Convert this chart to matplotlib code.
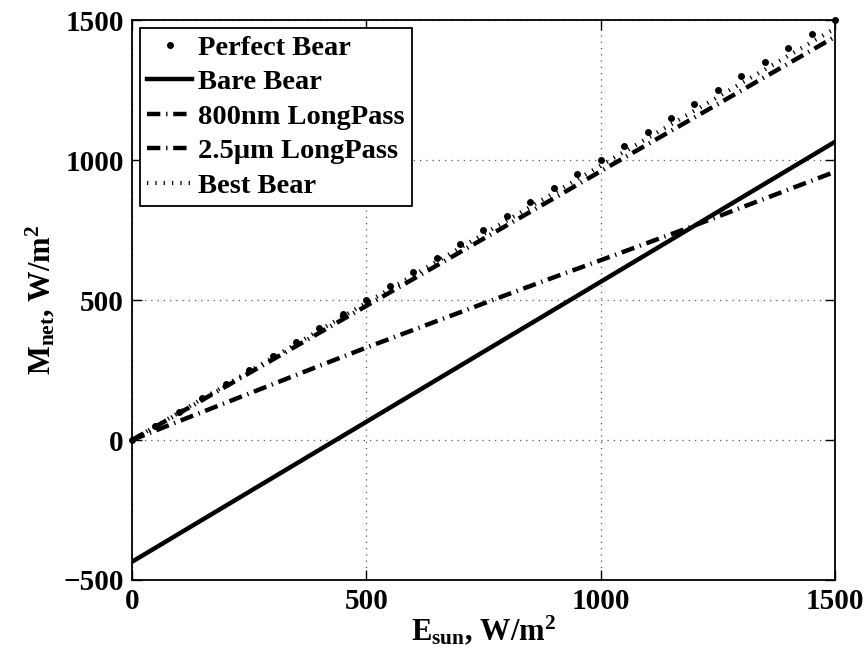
import matplotlib
matplotlib.use('Agg')
import matplotlib.pyplot as plt
import numpy as np

# irradiance (W/m^2) and net flux for each bear configuration
e_sun = [0, 100, 200, 300, 400, 500, 600, 700, 800, 900, 1000,
         1100, 1200, 1300, 1400, 1500]
bare_bear = [-435, -335, -235, -135, -35, 65, 165, 265, 365, 465, 565,
             665, 765, 865, 965, 1065]
longpass_800 = [0, 95, 191, 287, 383, 479, 575, 671, 767, 863, 960,
                1056, 1152, 1248, 1344, 1440]
longpass_2500 = [0, 67, 133, 199, 265, 330, 393, 456, 519, 581, 642,
                 704, 766, 830, 894, 958]
best_bear = [0, 98, 196, 294, 392, 490, 588, 686, 784, 882, 980,
             1078, 1176, 1274, 1372, 1470]
# perfect bear: every 50 W/m^2
e_perfect = list(range(0, 1501, 50))
perfect_bear = list(range(0, 1501, 50))

plt.rcParams['font.family'] = 'Liberation Serif'
plt.rcParams['font.weight'] = 'bold'
plt.rcParams['mathtext.fontset'] = 'custom'
plt.rcParams['mathtext.rm'] = 'Liberation Serif:bold'
plt.rcParams['mathtext.bf'] = 'Liberation Serif:bold'
plt.rcParams['mathtext.it'] = 'Liberation Serif:bold'
plt.rcParams['mathtext.default'] = 'bf'

fig = plt.figure(figsize=(8.65, 6.5), dpi=100)
ax = fig.add_axes([0.1526, 0.1077, 0.8127, 0.8615])

dashdot = (0, (3, 1.3, 0.3, 1.3))

ax.plot(e_perfect, perfect_bear, linestyle='none', marker='o', ms=4,
        color='black', clip_on=False, zorder=5, label='Perfect Bear')
ax.plot(e_sun, bare_bear, '-', lw=3.2, color='black', label='Bare Bear')
ax.plot(e_sun, longpass_800, linestyle=dashdot, lw=3.2, color='black',
        label='800nm LongPass')
ax.plot(e_sun, longpass_2500, linestyle=dashdot, lw=3.2, color='black',
        label='2.5µm LongPass')
ax.plot(e_sun, best_bear, linestyle=(0, (0.3, 1.7)), lw=3, color='black',
        label='Best Bear')

ax.set_xlim(0, 1500)
ax.set_ylim(-500, 1500)
ax.set_xticks([0, 500, 1000, 1500])
ax.set_yticks([-500, 0, 500, 1000, 1500])
ax.tick_params(direction='in', length=7, width=1, top=True, right=True,
               labelsize=21, pad=6)
for lbl in ax.get_xticklabels() + ax.get_yticklabels():
    lbl.set_fontweight('bold')
for s in ax.spines.values():
    s.set_linewidth(1.3)

ax.grid(True, linestyle=(0, (1, 4)), color='#555555', lw=0.9)

ax.set_xlabel(r'E$_{\mathbf{sun}}$, W/m$^{\mathbf{2}}$', fontsize=22,
              fontweight='bold', labelpad=-1)
ax.set_ylabel(r'M$_{\mathbf{net}}$, W/m$^{\mathbf{2}}$', fontsize=22,
              fontweight='bold', labelpad=4)

leg = ax.legend(loc='upper left', bbox_to_anchor=(0.011, 0.986),
                prop={'weight': 'bold', 'size': 20.5},
                handlelength=1.6, handletextpad=0.2, labelspacing=0.3,
                borderpad=0.25, borderaxespad=0, fancybox=False,
                framealpha=1, edgecolor='black')
leg.get_frame().set_linewidth(1.3)

fig.savefig('out.png', dpi=100)
